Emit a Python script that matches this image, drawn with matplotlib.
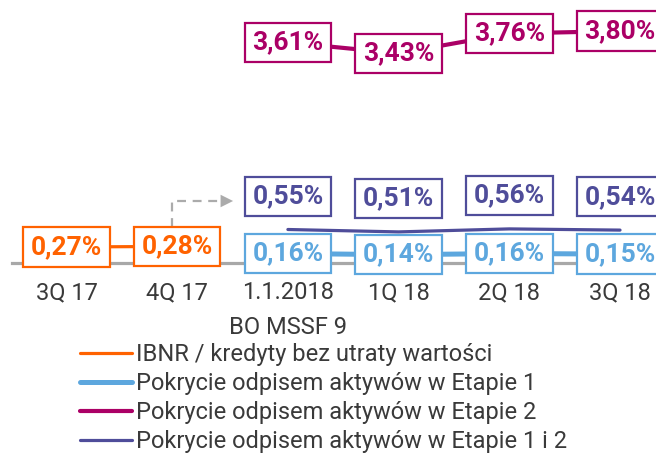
import matplotlib
matplotlib.use("Agg")
import matplotlib.pyplot as plt

plt.rcParams['font.family'] = ['Roboto', 'DejaVu Sans']

categories = ["3Q 17", "4Q 17", "1.1.2018\nBO MSSF 9", "1Q 18", "2Q 18", "3Q 18"]
x_ibnr = [0, 1]
ibnr = [0.27, 0.28]
x_new = [2, 3, 4, 5]
etap1 = [0.16, 0.14, 0.16, 0.15]
etap2 = [3.61, 3.43, 3.76, 3.80]
etap12 = [0.55, 0.51, 0.56, 0.54]

legend_labels = ["IBNR / kredyty bez utraty wartości",
                 "Pokrycie odpisem aktywów w Etapie 1",
                 "Pokrycie odpisem aktywów w Etapie 2",
                 "Pokrycie odpisem aktywów w Etapie 1 i 2"]

C_OR = "#FF6200"
C_BL = "#5DA7DE"
C_MG = "#AB0066"
C_PU = "#4F4D9A"
C_GR = "#A8A8A8"
C_TX = "#3A3A3A"

W, H = 656, 454
fig = plt.figure(figsize=(W / 100, H / 100), dpi=100)
AX_BOTTOM = 263  # pixel row of baseline
ax = fig.add_axes([12 / W, (H - AX_BOTTOM) / H, (W - 12) / W, AX_BOTTOM / H])
ax.set_xlim(-0.492, 5.325)
ax.set_ylim(0, 1)
for s in ["top", "left", "right"]:
    ax.spines[s].set_visible(False)
ax.spines["bottom"].set_color(C_GR)
ax.spines["bottom"].set_linewidth(2.3)
ax.set_yticks([])
ax.set_xticks(range(len(categories)))
ax.set_xticklabels(categories, fontsize=17, color=C_TX)
for t in ax.get_xticklabels():
    t.set_linespacing(1.65)
ax.tick_params(axis="x", length=0, pad=13)

PX_PER_UNIT = 60.0  # pixels per percentage point within each band


def band_axis(ref_val, ref_row):
    tw = ax.twinx()
    bottom = ref_val - (AX_BOTTOM - ref_row) / PX_PER_UNIT
    top = ref_val + ref_row / PX_PER_UNIT
    tw.set_ylim(bottom, top)
    tw.axis("off")
    return tw


def fmt(v):
    return f"{v:.2f}%".replace(".", ",")


def boxed(tw, xs, vals, color, dy=0):
    for xx, v in zip(xs, vals):
        tw.annotate(fmt(v), (xx, v), xytext=(0, dy), textcoords="offset points",
                    ha="center", va="center", fontsize=19, fontweight="semibold",
                    color=color, zorder=5,
                    bbox=dict(boxstyle="square,pad=0.29", fc="white", ec=color, lw=1.6))


# decorative dashed arrow from 4Q 17 to 1.1.2018
def row(p):
    return 1 - p / AX_BOTTOM

ax.plot([0.955, 0.955, 1.40], [row(227), row(201), row(201)], color="#ABABAB",
        lw=1.6, ls=(0, (4, 3)), clip_on=False)
ax.annotate("", xy=(1.53, row(201)), xytext=(1.38, row(201)),
            arrowprops=dict(arrowstyle="-|>,head_length=0.9,head_width=0.45",
                            color="#ABABAB", lw=0), annotation_clip=False)

# IBNR
t_or = band_axis(0.27, 247)
h_or, = t_or.plot(x_ibnr, ibnr, color=C_OR, lw=2.3, clip_on=False)
boxed(t_or, x_ibnr, ibnr, C_OR)

# Etap 1
t_bl = band_axis(0.16, 253.5)
h_bl, = t_bl.plot(x_new, etap1, color=C_BL, lw=3.6, clip_on=False)
boxed(t_bl, x_new, etap1, C_BL)

# Etap 1 i 2
t_pu = band_axis(0.55, 229.5)
h_pu, = t_pu.plot(x_new, etap12, color=C_PU, lw=2.3, clip_on=False,
                  solid_capstyle="round")
boxed(t_pu, x_new, etap12, C_PU, dy=24)

# Etap 2
t_mg = band_axis(3.61, 42.5)
h_mg, = t_mg.plot(x_new, etap2, color=C_MG, lw=3.0, clip_on=False)
boxed(t_mg, x_new, etap2, C_MG)

leg = fig.legend([h_or, h_bl, h_mg, h_pu], legend_labels,
                 loc="upper left", bbox_to_anchor=(80 / W, 1 - 343 / H),
                 frameon=False, fontsize=17, handlelength=2.2,
                 handletextpad=0.18, labelspacing=0.26, borderpad=0,
                 borderaxespad=0, labelcolor=C_TX)
for ln in leg.get_lines():
    ln.set_solid_capstyle("round")

fig.savefig("out.png", dpi=100)
